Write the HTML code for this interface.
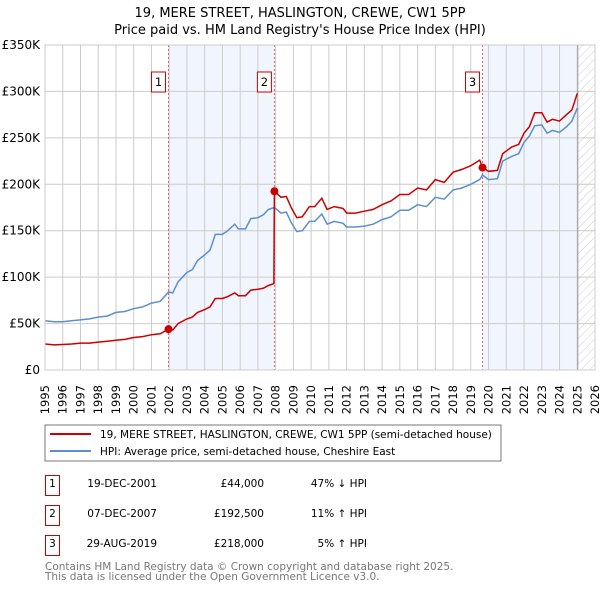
<!DOCTYPE html>
<html><head><meta charset="utf-8"><style>
body{margin:0;background:#fff;width:600px;height:590px;overflow:hidden;font-family:"DejaVu Sans","Liberation Sans",sans-serif;}
svg text{font-family:"DejaVu Sans","Liberation Sans",sans-serif;}
</style></head><body>
<svg id="chart" width="600" height="590" xmlns="http://www.w3.org/2000/svg">
<defs><pattern id="hatch" width="6" height="6" patternUnits="userSpaceOnUse" patternTransform="rotate(45)"><line x1="0" y1="0" x2="0" y2="6" stroke="#ccc" stroke-width="1"/></pattern></defs>
<text x="300" y="17" text-anchor="middle" font-size="13" fill="#000">19, MERE STREET, HASLINGTON, CREWE, CW1 5PP</text>
<text x="300" y="34" text-anchor="middle" font-size="13" fill="#000">Price paid vs. HM Land Registry's House Price Index (HPI)</text>
<g id="plot"></g>
<rect x="45" y="425" width="456" height="36" fill="#fff" stroke="#777"/>
<line x1="50" y1="434" x2="91" y2="434" stroke="#cc0000" stroke-width="2"/>
<text x="100" y="438" font-size="10.5">19, MERE STREET, HASLINGTON, CREWE, CW1 5PP (semi-detached house)</text>
<line x1="50" y1="451" x2="91" y2="451" stroke="#5b8fd0" stroke-width="2"/>
<text x="100" y="455" font-size="10.5">HPI: Average price, semi-detached house, Cheshire East</text>
<g font-size="10.5">
<rect x="45.5" y="475.5" width="14" height="20" fill="none" stroke="#cc0000"/><text x="52.5" y="487" text-anchor="middle">1</text>
<text x="157" y="487" text-anchor="end">19-DEC-2001</text><text x="264" y="487" text-anchor="end">£44,000</text><text x="367" y="487" text-anchor="end">47% ↓ HPI</text>
<rect x="45.5" y="505.5" width="14" height="20" fill="none" stroke="#cc0000"/><text x="52.5" y="517" text-anchor="middle">2</text>
<text x="157" y="517" text-anchor="end">07-DEC-2007</text><text x="264" y="517" text-anchor="end">£192,500</text><text x="367" y="517" text-anchor="end">11% ↑ HPI</text>
<rect x="45.5" y="535.5" width="14" height="20" fill="none" stroke="#cc0000"/><text x="52.5" y="547" text-anchor="middle">3</text>
<text x="157" y="547" text-anchor="end">29-AUG-2019</text><text x="264" y="547" text-anchor="end">£218,000</text><text x="367" y="547" text-anchor="end">5% ↑ HPI</text>
</g>
<text x="45" y="570" font-size="10.5" fill="#777">Contains HM Land Registry data © Crown copyright and database right 2025.</text>
<text x="45" y="580" font-size="10.5" fill="#777">This data is licensed under the Open Government Licence v3.0.</text>
</svg>
<script>
const hpiYears=[1995,1995.5,1996,1996.5,1997,1997.5,1998,1998.5,1999,1999.5,2000,2000.5,2001,2001.5,2001.96,2002.2,2002.5,2003,2003.3,2003.6,2004,2004.3,2004.6,2005,2005.3,2005.7,2005.9,2006.3,2006.6,2007,2007.3,2007.6,2007.93,2008.3,2008.6,2008.9,2009.2,2009.5,2009.9,2010.2,2010.6,2010.9,2011.3,2011.8,2012,2012.5,2013,2013.5,2014,2014.5,2015,2015.5,2016,2016.5,2017,2017.5,2018,2018.5,2019,2019.5,2019.66,2020,2020.5,2020.8,2021.3,2021.7,2022,2022.3,2022.6,2023,2023.3,2023.6,2024,2024.4,2024.7,2025];
const hpiValues=[53,52,52,53,54,55,57,58,62,63,66,68,72,74,84,83,95,105,108,118,124,129,146,146,150,157,152,152,163,164,167,173,175,169,170,158,149,150,160,160,168,157,160,158,154,154,155,157,162,165,172,172,178,176,186,184,194,196,200,205,210,205,206,225,230,233,245,252,263,264,255,258,256,262,268,282];
const priceYears=[1995,1995.5,1996,1996.5,1997,1997.5,1998,1998.5,1999,1999.5,2000,2000.5,2001,2001.5,2001.96,2002.2,2002.5,2003,2003.3,2003.6,2004,2004.3,2004.6,2005,2005.3,2005.7,2005.9,2006.3,2006.6,2007,2007.3,2007.6,2007.9,2007.93,2008.3,2008.6,2008.9,2009.2,2009.5,2009.9,2010.2,2010.6,2010.9,2011.3,2011.8,2012,2012.5,2013,2013.5,2014,2014.5,2015,2015.5,2016,2016.5,2017,2017.5,2018,2018.5,2019,2019.5,2019.66,2020,2020.5,2020.8,2021.3,2021.7,2022,2022.3,2022.6,2023,2023.3,2023.6,2024,2024.4,2024.7,2025];
const priceValues=[28,27,27.5,28,29,29,30,31,32,33,35,36,38,39,44,43,50,55,57,62,65,68,77,77,79,83,80,80,86,87,88,91,93,192.5,186,187,174,164,165,176,176,185,173,176,174,169,169,171,173,178,182,189,189,196,194,205,202,213,216,220,226,218,214,215,233,240,243,255,262,277,277,267,270,268,275,280,298];
const saleYears=[2001.96,2007.93,2019.66];
const saleValues=[44,192.5,218];
const saleLabels=["1","2","3"];
const yTicks=[0,50,100,150,200,250,300,350];
const yTickLabels=["£0","£50K","£100K","£150K","£200K","£250K","£300K","£350K"];
const xTicks=[1995,1996,1997,1998,1999,2000,2001,2002,2003,2004,2005,2006,2007,2008,2009,2010,2011,2012,2013,2014,2015,2016,2017,2018,2019,2020,2021,2022,2023,2024,2025,2026];

const L=45,R=595,T=45,B=370,X0=1995,X1=2026,Ymax=350,dataEnd=2025.03;
const xs=v=>L+(v-X0)/(X1-X0)*(R-L);
const ys=v=>B-v/Ymax*(B-T);
const NS="http://www.w3.org/2000/svg";
const g=document.getElementById('plot');
function mk(t,a){const e=document.createElementNS(NS,t);for(const k in a)e.setAttribute(k,a[k]);g.appendChild(e);return e;}
let e=mk('rect',{x:xs(saleYears[0]),y:T,width:xs(saleYears[1])-xs(saleYears[0]),height:B-T,fill:'#eef3fc',opacity:0.8});


e=mk('rect',{x:xs(saleYears[2]),y:T,width:xs(dataEnd)-xs(saleYears[2]),height:B-T,fill:'#eef3fc',opacity:0.8});


e=mk('rect',{x:xs(dataEnd),y:T,width:R-xs(dataEnd),height:B-T,fill:'url(#hatch)'});


xTicks.forEach(t=>{const l=mk('line',{x1:xs(t),x2:xs(t),y1:T,y2:B,stroke:'#ccc','stroke-width':1});


const px=xs(t)+4,py=385;
const tx=mk('text',{x:px,y:py,'text-anchor':'end','font-size':11.5,transform:'rotate(-90 '+px+' '+py+')'});tx.textContent=t;

});
yTicks.forEach((t,i)=>{const l=mk('line',{x1:L,x2:R,y1:ys(t),y2:ys(t),stroke:'#ccc','stroke-width':1});


const tx=mk('text',{x:40,y:ys(t)+4,'text-anchor':'end','font-size':12});tx.textContent=yTickLabels[i];

});
e=mk('line',{x1:xs(dataEnd),x2:xs(dataEnd),y1:T,y2:B,stroke:'#999','stroke-width':1});


saleYears.forEach((s,i)=>{const l=mk('line',{x1:xs(s),x2:xs(s),y1:T,y2:B,stroke:'#e06060','stroke-width':1,'stroke-dasharray':'2,2'});


const bx=mk('rect',{x:xs(s)-17,y:72,width:14,height:20,fill:'#fff',stroke:'#cc0000'});


const tx=mk('text',{x:xs(s)-10,y:86,'text-anchor':'middle','font-size':11.5});tx.textContent=saleLabels[i];

});
function path(xa,va){return xa.map((x,i)=>(i?'L':'M')+xs(x).toFixed(1)+','+ys(va[i]).toFixed(1)).join('');}
e=mk('path',{d:path(hpiYears,hpiValues),fill:'none',stroke:'#5b8fd0','stroke-width':1.5});


e=mk('path',{d:path(priceYears,priceValues),fill:'none',stroke:'#cc0000','stroke-width':1.5});


saleYears.forEach((s,i)=>{const c=mk('circle',{cx:xs(s),cy:ys(saleValues[i]),r:4,fill:'#cc0000'});

});
e=mk('rect',{x:L,y:T,width:R-L,height:B-T,fill:'none',stroke:'#ccc'});


</script>
</body></html>
